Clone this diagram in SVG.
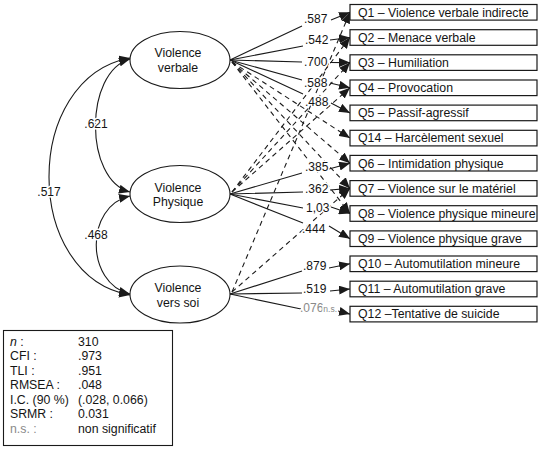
<svg xmlns="http://www.w3.org/2000/svg" width="545" height="451" viewBox="0 0 545 451">
<style>
text{font-family:"Liberation Sans",Arial,sans-serif;fill:#141414}
.box{fill:#fff;stroke:#1a1a1a;stroke-width:1.2}
.bt{font-size:12.3px}
.ell{fill:#fff;stroke:#1a1a1a;stroke-width:1.1}
.et{font-size:12.3px;text-anchor:middle}
.ln{fill:none;stroke:#1a1a1a;stroke-width:1.1;marker-end:url(#ah)}
.dl{fill:none;stroke:#1a1a1a;stroke-width:1.1;stroke-dasharray:5,4;marker-end:url(#ah)}
.cv{fill:none;stroke:#1a1a1a;stroke-width:1.1;marker-end:url(#ah);marker-start:url(#ahs)}
.lbl{font-size:12px;paint-order:stroke;stroke:#fff;stroke-width:3px;stroke-linejoin:round}
.grey{fill:#8a8a8a}
.st{font-size:12.3px}
</style>
<defs>
<marker id="ah" markerUnits="userSpaceOnUse" markerWidth="11" markerHeight="9" refX="11" refY="4.5" orient="auto"><path d="M0,0 L11,4.5 L0,9 z" fill="#1a1a1a"/></marker>
<marker id="ahs" markerUnits="userSpaceOnUse" markerWidth="11" markerHeight="9" refX="11" refY="4.5" orient="auto-start-reverse"><path d="M0,0 L11,4.5 L0,9 z" fill="#1a1a1a"/></marker>
</defs>

<g id="connectors">
<!-- covariances -->
<path class="cv" d="M130,58 C22,78 22,276 130,295"/>
<path class="cv" d="M130,59 C84,72 84,180 130,192"/>
<path class="cv" d="M130,196 C85,206 85,283 130,294"/>
<!-- dashed cross loadings -->
<path class="dl" d="M232,62 L350,138.1"/>
<path class="dl" d="M232,62 L350,163.2"/>
<path class="dl" d="M232,62 L350,188.4"/>
<path class="dl" d="M232,62 L350,213.5"/>
<path class="dl" d="M232,192 L350,37.5"/>
<path class="dl" d="M232,192 L350,62.6"/>
<path class="dl" d="M232,192 L350,87.8"/>
<path class="dl" d="M232,292 L350,12.3"/>
<path class="dl" d="M232,292 L350,188.4"/>
<!-- solid loadings: verbale -->
<path class="ln" d="M230,60 L302,26 M331,20 L350,12.3"/>
<path class="ln" d="M230,60 L303,46 M330,40 L350,37.5"/>
<path class="ln" d="M230,60 L302,62 M330,62.5 L350,62.6"/>
<path class="ln" d="M230,60 L302,80 M330,83 L350,87.8"/>
<path class="ln" d="M230,60 L303,94 M331,103 L350,112.9"/>
<!-- physique -->
<path class="ln" d="M230,194 L302,173 M329,169 L350,163.2"/>
<path class="ln" d="M230,194 L303,192 M330,190 L350,188.4"/>
<path class="ln" d="M230,194 L303,208 M331,207 L350,213.5"/>
<path class="ln" d="M230,194 L303,223 M329,226 L350,238.7"/>
<!-- vers soi -->
<path class="ln" d="M230,294 L302,271 M329,268 L350,263.8"/>
<path class="ln" d="M230,294 L302,293 M330,291 L350,289"/>
<path class="ln" d="M230,294 L301,309 M338,311 L350,314.1"/>
<!-- loading labels -->
<text class="lbl" x="304" y="23">.587</text>
<text class="lbl" x="305" y="44">.542</text>
<text class="lbl" x="304" y="66">.700</text>
<text class="lbl" x="304" y="87">.588</text>
<text class="lbl" x="305" y="106">.488</text>
<text class="lbl" x="305" y="171">.385</text>
<text class="lbl" x="305" y="193">.362</text>
<text class="lbl" x="306" y="212">1,03</text>
<text class="lbl" x="302" y="233">.444</text>
<text class="lbl" x="303" y="270">.879</text>
<text class="lbl" x="303" y="293">.519</text>
<text class="lbl grey" x="300" y="312">.076<tspan font-size="8.5">n.s.</tspan></text>
<text class="lbl" x="96" y="128" text-anchor="middle">.621</text>
<text class="lbl" x="96" y="239" text-anchor="middle">.468</text>
<text class="lbl" x="49" y="196" text-anchor="middle">.517</text>
</g>

<g id="verbale"><ellipse class="ell" cx="180" cy="60" rx="50" ry="28.5"/><text class="et" x="178" y="57">Violence</text><text class="et" x="178" y="71.5">verbale</text></g>
<g id="physique"><ellipse class="ell" cx="180" cy="194" rx="50" ry="28.5"/><text class="et" x="178" y="192">Violence</text><text class="et" x="178" y="206">Physique</text></g>
<g id="verssoi"><ellipse class="ell" cx="180" cy="294.5" rx="50" ry="28.5"/><text class="et" x="178" y="292">Violence</text><text class="et" x="178" y="306.5">vers soi</text></g>

<g id="q1"><rect class="box" x="350" y="4.5" width="187" height="15.6"/><text class="bt" x="358" y="16.6">Q1 – Violence verbale indirecte</text></g>
<g id="q2"><rect class="box" x="350" y="29.7" width="187" height="15.6"/><text class="bt" x="358" y="41.8">Q2 – Menace verbale</text></g>
<g id="q3"><rect class="box" x="350" y="54.8" width="187" height="15.6"/><text class="bt" x="358" y="66.9">Q3 – Humiliation</text></g>
<g id="q4"><rect class="box" x="350" y="80" width="187" height="15.6"/><text class="bt" x="358" y="92.1">Q4 – Provocation</text></g>
<g id="q5"><rect class="box" x="350" y="105.1" width="187" height="15.6"/><text class="bt" x="358" y="117.2">Q5 – Passif-agressif</text></g>
<g id="q14"><rect class="box" x="350" y="130.3" width="187" height="15.6"/><text class="bt" x="358" y="142.4">Q14 – Harcèlement sexuel</text></g>
<g id="q6"><rect class="box" x="350" y="155.4" width="187" height="15.6"/><text class="bt" x="358" y="167.5">Q6 – Intimidation physique</text></g>
<g id="q7"><rect class="box" x="350" y="180.6" width="187" height="15.6"/><text class="bt" x="358" y="192.7">Q7 – Violence sur le matériel</text></g>
<g id="q8"><rect class="box" x="350" y="205.7" width="187" height="15.6"/><text class="bt" x="358" y="217.8">Q8 – Violence physique mineure</text></g>
<g id="q9"><rect class="box" x="350" y="230.9" width="187" height="15.6"/><text class="bt" x="358" y="243">Q9 – Violence physique grave</text></g>
<g id="q10"><rect class="box" x="350" y="256" width="187" height="15.6"/><text class="bt" x="358" y="268.1">Q10 – Automutilation mineure</text></g>
<g id="q11"><rect class="box" x="350" y="281.2" width="187" height="15.6"/><text class="bt" x="358" y="293.3">Q11 – Automutilation grave</text></g>
<g id="q12"><rect class="box" x="350" y="306.3" width="187" height="15.6"/><text class="bt" x="358" y="318.4">Q12 –Tentative de suicide</text></g>

<g id="stats">
<rect x="3.5" y="330.5" width="169" height="115" fill="#fff" stroke="#1a1a1a" stroke-width="1.1"/>
<text class="st" x="10" y="345.5"><tspan font-style="italic">n</tspan> :</text><text class="st" x="78" y="345.5">310</text>
<text class="st" x="10" y="360">CFI :</text><text class="st" x="78" y="360">.973</text>
<text class="st" x="10" y="374.5">TLI :</text><text class="st" x="78" y="374.5">.951</text>
<text class="st" x="10" y="389">RMSEA :</text><text class="st" x="78" y="389">.048</text>
<text class="st" x="10" y="403.5">I.C. (90 %)</text><text class="st" x="78" y="403.5">(.028, 0.066)</text>
<text class="st" x="10" y="418">SRMR :</text><text class="st" x="78" y="418">0.031</text>
<text class="st grey" x="10" y="432.5">n.s. :</text><text class="st" x="78" y="432.5">non significatif</text>
</g>
</svg>
